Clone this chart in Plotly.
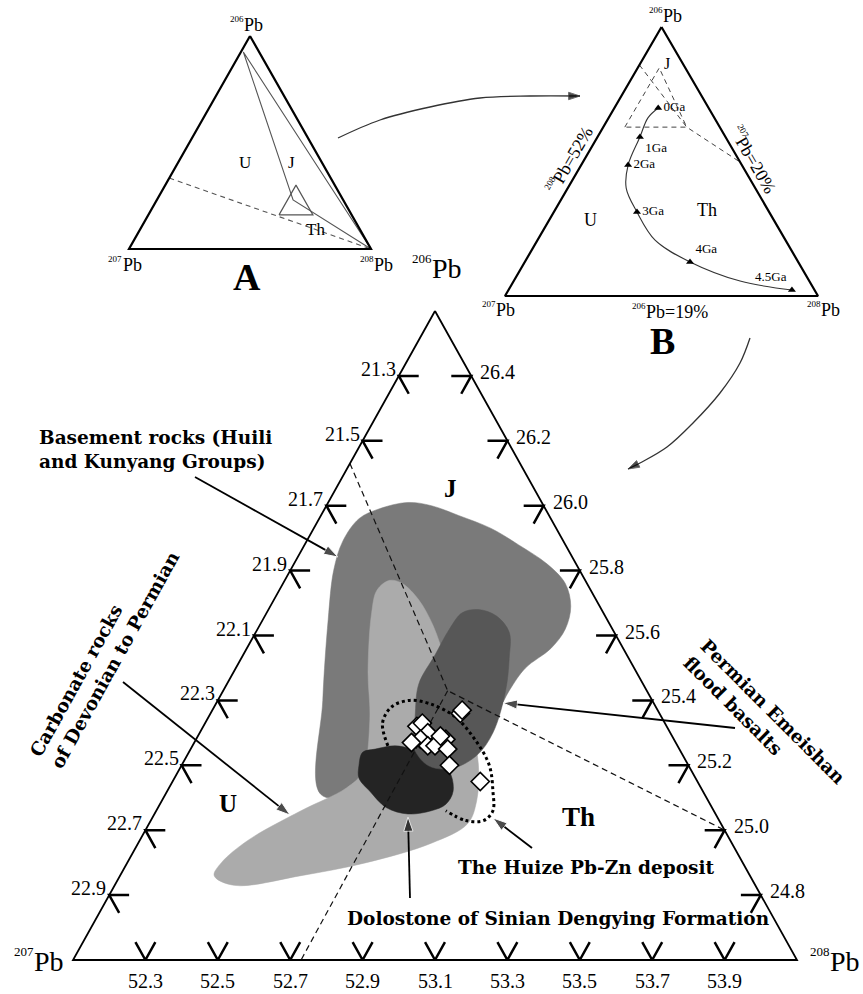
import math
import plotly.graph_objects as go

W, H = 863, 994

# ---------------- main diagram: window of the Pb ternary (atom %) ----------------
TOTAL = 99.8
MIN206, MIN207, MIN208, SPAN = 24.6, 21.1, 52.1, 2.0

tick207 = [21.3, 21.5, 21.7, 21.9, 22.1, 22.3, 22.5, 22.7, 22.9]
tick206 = [26.4, 26.2, 26.0, 25.8, 25.6, 25.4, 25.2, 25.0, 24.8]
tick208 = [52.3, 52.5, 52.7, 52.9, 53.1, 53.3, 53.5, 53.7, 53.9]

# field outlines as (206Pb, 208Pb) pairs, 207Pb is the remainder
basement206 = [25.40, 25.65, 25.80, 25.89, 25.96, 25.99, 26.01, 26.00, 25.97, 25.93, 25.88,
               25.82, 25.76, 25.69, 25.62, 25.56, 25.50, 25.43, 25.28, 25.17, 25.12, 25.11]
basement208 = [52.39, 52.28, 52.22, 52.20, 52.21, 52.25, 52.32, 52.39, 52.48, 52.59, 52.69,
               52.80, 52.88, 52.93, 52.95, 52.94, 52.90, 52.89, 52.89, 52.80, 52.66, 52.53]

carbonate206 = [25.49, 25.67, 25.74, 25.77, 25.76, 25.71, 25.63, 25.52, 25.40, 25.29, 25.20, 25.09,
                25.02, 24.96, 24.90, 24.86, 24.83, 24.86, 24.90, 24.97, 25.06, 25.13, 25.18, 25.34]
carbonate208 = [52.47, 52.39, 52.37, 52.39, 52.43, 52.50, 52.58, 52.67, 52.77, 52.86, 52.92, 52.97,
                52.98, 52.91, 52.76, 52.60, 52.43, 52.36, 52.36, 52.40, 52.50, 52.59, 52.61, 52.55]

dolostone206 = [25.20, 25.24, 25.25, 25.26, 25.25, 25.22, 25.18, 25.12, 25.08, 25.06, 25.05, 25.07, 25.12, 25.16]
dolostone208 = [52.59, 52.58, 52.61, 52.66, 52.71, 52.79, 52.85, 52.89, 52.89, 52.86, 52.80, 52.73, 52.66, 52.61]

emeishan206 = [25.68, 25.66, 25.61, 25.53, 25.43, 25.30, 25.23, 25.19, 25.20, 25.26, 25.35, 25.45, 25.54, 25.62, 25.67]
emeishan208 = [52.68, 52.74, 52.80, 52.84, 52.88, 52.91, 52.90, 52.85, 52.78, 52.71, 52.67, 52.63, 52.63, 52.63, 52.64]

huize206 = [25.26, 25.33, 25.38, 25.40, 25.39, 25.35, 25.28, 25.20, 25.12, 25.06, 25.03, 25.03, 25.06]
huize208 = [52.64, 52.59, 52.59, 52.63, 52.69, 52.78, 52.87, 52.95, 53.00, 53.03, 53.02, 52.97, 52.90]

# Huize ore samples
ore206 = [25.36, 25.37, 25.32, 25.33, 25.30, 25.28, 25.27, 25.26, 25.26, 25.28, 25.25, 25.20, 25.15, 25.29]
ore207 = [21.65, 21.64, 21.79, 21.77, 21.77, 21.80, 21.83, 21.79, 21.77, 21.73, 21.74, 21.76, 21.70, 21.74]
ore208 = [52.79, 52.79, 52.69, 52.70, 52.73, 52.72, 52.70, 52.75, 52.77, 52.79, 52.81, 52.84, 52.95, 52.77]

# U / J / Th boundaries: left edge, junction, right edge, bottom edge
bound206 = [26.13, 25.43, 25.00, 24.60]
bound208 = [52.10, 52.72, 53.70, 52.73]

# ---------------- diagram A: whole ternary (fractions) ----------------
wedge206 = [0.925, 0.23, 0.0, 0.925]
wedge208 = [0.01, 0.563, 1.0, 0.01]
zoombox206 = [0.16, 0.30, 0.16, 0.16]
zoombox208 = [0.54, 0.54, 0.68, 0.54]
adash206 = [0.333, 0.0]
adash208 = [0.0, 1.0]

# ---------------- diagram B: 206Pb>=19, 207Pb>=20, 208Pb>=52 % ----------------
growth206 = [25.29, 24.96, 24.32, 23.38, 22.61, 21.81, 20.87, 20.14, 19.50, 19.20]
growth208 = [53.26, 53.13, 53.22, 53.35, 53.68, 54.39, 55.38, 56.75, 58.51, 60.15]
ga_labels = ["0Ga", "1Ga", "2Ga", "3Ga", "4Ga", "4.5Ga"]
ga206 = [25.29, 24.32, 23.38, 21.81, 20.14, 19.20]
ga208 = [53.26, 53.22, 53.35, 54.39, 56.75, 60.15]
jbox206 = [24.65, 26.63, 24.65, 24.65]
jbox208 = [52.62, 52.62, 54.40, 52.62]
bbound206 = [26.73, 24.65, 23.48]
bbound208 = [52.00, 54.40, 56.52]

SERIF = "Liberation Serif"
BOLD = "DejaVu Serif"
MAIN_PX = (73, 797, 960, 311)   # left, right, base, apex of the big triangle on the page


def to_xy(p206, p208, lo206, lo208, span):
    xs, ys = [], []
    for a, c in zip(p206, p208):
        u = (a - lo206) / span
        w = (c - lo208) / span
        xs.append(w + u / 2)
        ys.append(u)
    return xs, ys


def main_xy(p206, p208):
    return to_xy(p206, p208, MIN206, MIN208, SPAN)


def page_xy(pts):
    l, r, b, t = MAIN_PX
    return [(p[0] - l) / (r - l) for p in pts], [(b - p[1]) / (b - t) for p in pts]


def frame(left, right, base, apex):
    sx, sy = right - left, base - apex
    return [-left / sx, (W - left) / sx], [(base - H) / sy, base / sy]


def closed(v):
    return list(v) + [v[0]]


fig = go.Figure()

# filled fields
for p206, p208, col in [(basement206, basement208, "#7a7a7a"),
                        (carbonate206, carbonate208, "#ababab"),
                        (dolostone206, dolostone208, "#242424"),
                        (emeishan206, emeishan208, "#575757")]:
    x, y = main_xy(closed(p206), closed(p208))
    fig.add_trace(go.Scatter(x=x, y=y, mode="lines", fill="toself", fillcolor=col,
                             line=dict(color=col, width=0.5, shape="spline", smoothing=1.0),
                             hoverinfo="skip"))

# boundaries
x, y = main_xy([bound206[0], bound206[1], bound206[2]], [bound208[0], bound208[1], bound208[2]])
fig.add_trace(go.Scatter(x=x, y=y, mode="lines", line=dict(color="#111", width=1.2, dash="6px,4px")))
x, y = main_xy([bound206[1], bound206[3]], [bound208[1], bound208[3]])
fig.add_trace(go.Scatter(x=x, y=y, mode="lines", line=dict(color="#111", width=1.2, dash="6px,4px")))

# Huize deposit outline
x, y = main_xy(huize206, huize208)
fig.add_trace(go.Scatter(x=x, y=y, mode="lines",
                         line=dict(color="black", width=3, dash="3px,3px", shape="spline")))

# samples
s = [(a - MIN206) + (b - MIN207) + (c - MIN208) for a, b, c in zip(ore206, ore207, ore208)]
u = [(a - MIN206) / k for a, k in zip(ore206, s)]
w = [(c - MIN208) / k for c, k in zip(ore208, s)]
fig.add_trace(go.Scatter(x=[wi + ui / 2 for ui, wi in zip(u, w)], y=u, mode="markers",
                         marker=dict(symbol="diamond", size=14, color="white",
                                     line=dict(color="black", width=1.6))))

# triangle frame
x, y = main_xy([MIN206 + SPAN, MIN206, MIN206, MIN206 + SPAN], [MIN208, MIN208, MIN208 + SPAN, MIN208])
fig.add_trace(go.Scatter(x=x, y=y, mode="lines", line=dict(color="black", width=1.8)))

# chevron ticks
d = 0.055
ta, tc = [], []
for t in tick207:
    a, c = TOTAL - t - MIN208, MIN208
    ta += [a, a, a - d, None]
    tc += [c + d, c, c + d, None]
for t in tick206:
    a, c = t, TOTAL - t - MIN207
    ta += [a, a, a - d, None]
    tc += [c - d, c, c, None]
for t in tick208:
    a, c = MIN206, t
    ta += [a + d, a, a + d, None]
    tc += [c - d, c, c, None]
tx, ty = [], []
for a, c in zip(ta, tc):
    if a is None:
        tx.append(None)
        ty.append(None)
    else:
        xx, yy = main_xy([a], [c])
        tx.append(xx[0])
        ty.append(yy[0])
fig.add_trace(go.Scatter(x=tx, y=ty, mode="lines", line=dict(color="black", width=2.5)))

annotations = []


def tick_label(t, a, c, **kw):
    xx, yy = main_xy([a], [c])
    annotations.append(dict(text=f"{t:.1f}", x=xx[0], y=yy[0], xref="x", yref="y", showarrow=False,
                            font=dict(family=SERIF, size=20, color="black"), **kw))


for t in tick207:
    tick_label(t, TOTAL - t - MIN208, MIN208, xanchor="right", yanchor="middle", xshift=-1, yshift=7)
for t in tick206:
    tick_label(t, t, TOTAL - t - MIN207, xanchor="left", yanchor="middle", xshift=7, yshift=4)
for t in tick208:
    tick_label(t, MIN206, t, xanchor="center", yanchor="middle", yshift=-21)

# ---------------- diagram A ----------------
for p206, p208, lw, dash, col in [(wedge206, wedge208, 1.1, None, "#555"),
                                  (zoombox206, zoombox208, 1.2, None, "#555"),
                                  (adash206, adash208, 1.1, "5px,4px", "#555"),
                                  ([1, 0, 0, 1], [0, 0, 1, 0], 2.2, None, "black")]:
    x, y = to_xy(p206, p208, 0, 0, 1)
    fig.add_trace(go.Scatter(x=x, y=y, mode="lines", xaxis="x2", yaxis="y2",
                             line=dict(color=col, width=lw, dash=dash)))

# ---------------- diagram B ----------------
x, y = to_xy(jbox206, jbox208, 19, 52, 9)
fig.add_trace(go.Scatter(x=x, y=y, mode="lines", xaxis="x3", yaxis="y3",
                         line=dict(color="#444", width=1.0, dash="5px,4px")))
x, y = to_xy(bbound206, bbound208, 19, 52, 9)
fig.add_trace(go.Scatter(x=x, y=y, mode="lines", xaxis="x3", yaxis="y3",
                         line=dict(color="#444", width=1.0, dash="5px,4px")))
x, y = to_xy(growth206, growth208, 19, 52, 9)
fig.add_trace(go.Scatter(x=x, y=y, mode="lines", xaxis="x3", yaxis="y3",
                         line=dict(color="#333", width=1.1, shape="spline")))
x, y = to_xy(ga206, ga208, 19, 52, 9)
fig.add_trace(go.Scatter(x=x, y=y, mode="markers+text", xaxis="x3", yaxis="y3", text=ga_labels,
                         textposition=["middle right", "bottom right", "middle right", "middle right",
                                       "top right", "top left"],
                         textfont=dict(family=SERIF, size=13, color="black"),
                         marker=dict(symbol="triangle-up", size=7, color="black")))
x, y = to_xy([28, 19, 19, 28], [52, 52, 61, 52], 19, 52, 9)
fig.add_trace(go.Scatter(x=x, y=y, mode="lines", xaxis="x3", yaxis="y3",
                         line=dict(color="black", width=2.2)))


# ---------------- arrows (page pixels, drawn on the page-wide main axes) ----------------
def arrow(pts, width=1.8, head=15, color="black", spline=False):
    x, y = page_xy(pts)
    fig.add_trace(go.Scatter(x=x, y=y, mode="lines+markers",
                             line=dict(color=color, width=width, shape="spline" if spline else "linear"),
                             marker=dict(symbol="arrow", angleref="previous", color="black",
                                         size=[0] * (len(pts) - 1) + [head])))


arrow([(195, 477), (338, 557)])
arrow([(123, 682), (290, 815)])
arrow([(735, 728), (503, 703)])
arrow([(532, 848), (493, 818)])
arrow([(410, 898), (408, 817)])
arrow([(338, 138), (380, 120), (430, 107), (480, 98), (530, 96), (580, 96)],
      width=1.3, head=12, color="#333", spline=True)
arrow([(750, 338), (740, 363), (720, 393), (693, 423), (667, 447), (640, 463), (628, 469)],
      width=1.3, head=12, color="#333", spline=True)


# ---------------- text in page pixels ----------------
def label(text, px, py, size, family=SERIF, angle=0, xanchor="center", align="center", pad=1):
    annotations.append(dict(text=text, x=px / W, y=1 - py / H, xref="paper", yref="paper",
                            showarrow=False, textangle=angle, xanchor=xanchor, yanchor="middle",
                            align=align, borderpad=pad, borderwidth=0 if pad == 0 else 1,
                            font=dict(family=family, size=size, color="black")))


def iso_label(num, rest, jx, jy, size, sup, angle=0, rest_w=0, num_w=0):
    # jx, jy: page point where the mass number meets the "Pb" text
    if angle == 0:
        label(rest, jx, jy, size, xanchor="left", pad=0)
        label(str(num), jx, jy - 0.33 * size, sup, xanchor="right", pad=0)
        return
    th = math.radians(angle)
    dx, dy = math.cos(th), math.sin(th)
    ux, uy = math.sin(th), -math.cos(th)
    r, n = rest_w / 2 - 1, num_w / 2 - 1
    label(rest, jx + dx * r, jy + dy * r, size, angle=angle, pad=0)
    label(str(num), jx - dx * n + ux * 0.33 * size, jy - dy * n + uy * 0.33 * size,
          sup, angle=angle, pad=0)


# main
iso_label(206, "Pb", 432, 268, 28, 13)
iso_label(207, "Pb", 34, 961, 28, 13)
iso_label(208, "Pb", 830, 961, 28, 13)
label("<b>J</b>", 450, 488, 25)
label("<b>U</b>", 228, 803, 25)
label("<b>Th</b>", 578, 817, 27)
label("<b>Basement rocks (Huili<br>and Kunyang Groups)</b>", 37, 450, 18.5, family=BOLD,
      xanchor="left", align="left")
label("<b>Carbonate rocks<br>of Devonian to Permian</b>", 104, 654, 18.5, family=BOLD, angle=-61,
      align="left")
label("<b>Permian Emeishan<br>flood basalts</b>", 765, 720, 18.5, family=BOLD, angle=45, align="left")
label("<b>The Huize Pb-Zn deposit</b>", 586, 867, 18.5, family=BOLD)
label("<b>Dolostone of Sinian Dengying Formation</b>", 558, 918, 18.5, family=BOLD)

# A
iso_label(206, "Pb", 243.5, 25, 18, 9)
iso_label(207, "Pb", 122.5, 265, 18, 9)
iso_label(208, "Pb", 373.5, 265, 18, 9)
label("U", 245, 162, 17)
label("J", 291, 162, 17)
label("Th", 315, 230, 17)
label("<b>A</b>", 247, 277, 38)

# B
iso_label(206, "Pb", 662.5, 16, 18, 9)
iso_label(207, "Pb", 495.5, 310, 18, 9)
iso_label(208, "Pb", 820.5, 310, 18, 9)
iso_label(206, "Pb=19%", 645.5, 312, 18, 9)
iso_label(208, "Pb=52%", 557.8, 181.1, 18, 9, angle=-60, rest_w=62, num_w=13.5)
iso_label(207, "Pb=20%", 740.8, 138.9, 18, 9, angle=60, rest_w=62, num_w=13.5)
label("U", 590, 220, 18)
label("Th", 707, 210, 18)
label("J", 667, 63, 16)
label("<b>B</b>", 662, 341, 38)

mx, my = frame(*MAIN_PX)
ax_, ay_ = frame(129, 371, 249, 36)
bx, by = frame(505, 818, 296, 27)
hide = dict(visible=False, fixedrange=True, domain=[0, 1])

fig.update_layout(
    width=W, height=H, margin=dict(l=0, r=0, t=0, b=0),
    paper_bgcolor="white", plot_bgcolor="rgba(0,0,0,0)", showlegend=False,
    xaxis=dict(range=mx, anchor="y", **hide), yaxis=dict(range=my, anchor="x", **hide),
    xaxis2=dict(range=ax_, anchor="y2", **hide), yaxis2=dict(range=ay_, anchor="x2", **hide),
    xaxis3=dict(range=bx, anchor="y3", **hide), yaxis3=dict(range=by, anchor="x3", **hide),
    annotations=annotations,
)

fig.write_html("out.html", config={"displayModeBar": False},
               post_script="document.body.style.margin='0px';")
